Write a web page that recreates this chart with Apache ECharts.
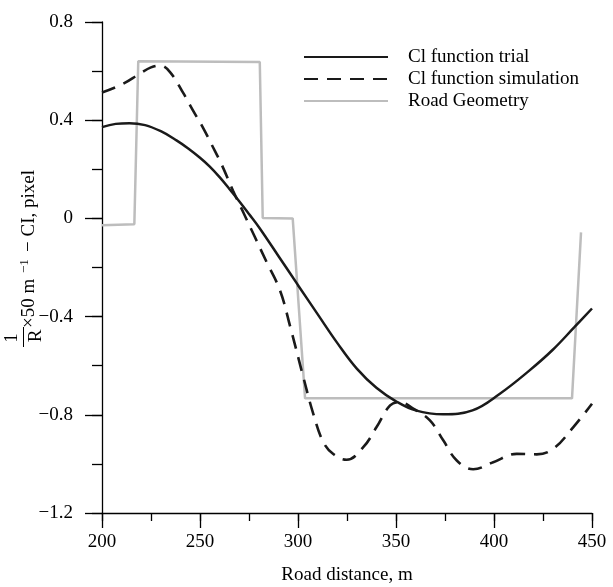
<!DOCTYPE html>
<html>
<head>
<meta charset="utf-8">
<script src="https://cdn.jsdelivr.net/npm/echarts@6/dist/echarts.min.js"></script>
<style>html,body{margin:0;padding:0;background:#fff;}#c{width:613px;height:587px;}</style>
</head>
<body>
<div id="c"></div>
<script>
var FONT = '"Liberation Serif", "Times New Roman", serif';

var trialX = [200, 207, 214, 222, 230, 238, 244, 250, 255, 260, 265, 270, 275, 280, 290, 300, 310, 320, 330, 340, 350, 360, 374, 389, 403, 418, 430, 441, 450];
var trialY = [0.372, 0.385, 0.388, 0.38, 0.355, 0.318, 0.285, 0.247, 0.211, 0.168, 0.12, 0.07, 0.018, -0.035, -0.153, -0.272, -0.39, -0.507, -0.612, -0.69, -0.745, -0.782, -0.798, -0.782, -0.714, -0.62, -0.535, -0.443, -0.367];

var simX = [200, 210, 219.4, 225, 229.6, 234.7, 241.5, 246.4, 251.5, 256, 261, 266.8, 272, 278, 284, 290.8, 296, 302.7, 307.8, 312.9, 318, 324.8, 333.3, 340.1, 347, 352, 358.8, 367.3, 374.1, 381, 389.4, 399.6, 411.6, 421.8, 430.3, 440.5, 450];
var simY = [0.513, 0.545, 0.59, 0.615, 0.623, 0.596, 0.51, 0.44, 0.37, 0.30, 0.22, 0.114, 0.026, -0.076, -0.178, -0.293, -0.44, -0.646, -0.796, -0.911, -0.96, -0.983, -0.932, -0.85, -0.762, -0.748, -0.775, -0.823, -0.904, -0.986, -1.022, -0.993, -0.959, -0.961, -0.938, -0.85, -0.755];

var roadX = [200, 216.5, 218.5, 280.5, 282, 297.3, 303.6, 439.8, 444.4];
var roadY = [-0.028, -0.024, 0.64, 0.637, 0.002, 0.0, -0.733, -0.733, -0.057];

var xTicks = {min: 200, max: 450, interval: 50, minorInterval: 25};
var yTicks = {min: -1.2, max: 0.8, interval: 0.4, minorInterval: 0.2};

var seriesNames = ['Cl function trial', 'Cl function simulation', 'Road Geometry'];

function pairs(xs, ys) { return xs.map(function (x, i) { return [x, ys[i]]; }); }
function fmtY(v) {
  if (Math.abs(v) < 1e-9) return '0';
  return (v < 0 ? '\u2212' : '') + Math.abs(v).toFixed(1);
}

var chart = echarts.init(document.getElementById('c'), null, {renderer: 'canvas'});
var gridBox = {left: 102, right: 21, top: 22, bottom: 74, containLabel: false, outerBoundsMode: 'none'};
var tickLine = {color: '#000', width: 1.3};
var txt = function (s, size) {
  return {text: s, font: size + 'px ' + FONT, fill: '#000', textVerticalAlign: 'middle'};
};
chart.setOption({
  animation: false,
  backgroundColor: '#fff',
  grid: [Object.assign({}, gridBox), Object.assign({}, gridBox)],
  xAxis: [{
    type: 'value', gridIndex: 0, position: 'bottom', min: xTicks.min, max: xTicks.max, interval: xTicks.interval,
    axisLine: {show: true, onZero: false, lineStyle: tickLine}, splitLine: {show: false},
    axisTick: {show: true, inside: false, length: 15, lineStyle: tickLine},
    minorTick: {show: false},
    axisLabel: {color: '#000', fontFamily: FONT, fontSize: 19, margin: 20},
    name: 'Road distance, m', nameLocation: 'middle', nameGap: 53,
    nameTextStyle: {color: '#000', fontFamily: FONT, fontSize: 19}
  }, {
    type: 'value', gridIndex: 1, position: 'bottom', min: xTicks.min, max: xTicks.max, interval: xTicks.minorInterval,
    axisLine: {show: false, onZero: false}, splitLine: {show: false}, axisLabel: {show: false},
    axisTick: {show: true, inside: false, length: 8, lineStyle: tickLine}
  }],
  yAxis: [{
    type: 'value', gridIndex: 0, position: 'left', min: yTicks.min, max: yTicks.max, interval: yTicks.interval,
    axisLine: {show: true, onZero: false, lineStyle: tickLine}, splitLine: {show: false},
    axisTick: {show: true, inside: false, length: 17, lineStyle: tickLine},
    minorTick: {show: false},
    axisLabel: {color: '#000', fontFamily: FONT, fontSize: 19, margin: 29, formatter: fmtY}
  }, {
    type: 'value', gridIndex: 1, position: 'left', min: yTicks.min, max: yTicks.max, interval: yTicks.minorInterval,
    axisLine: {show: false, onZero: false}, splitLine: {show: false}, axisLabel: {show: false},
    axisTick: {show: true, inside: false, length: 10, lineStyle: tickLine}
  }],
  legend: {
    orient: 'vertical', left: 303, top: 46, padding: 0, itemWidth: 84, itemHeight: 22, itemGap: 0,
    data: seriesNames,
    itemStyle: {color: 'rgba(0,0,0,0)', borderWidth: 0, borderColor: 'rgba(0,0,0,0)'},
    textStyle: {fontFamily: FONT, fontSize: 19, color: '#000', lineHeight: 22, padding: [0, 0, 0, 15]}
  },
  series: [
    {
      name: seriesNames[2], type: 'line', data: pairs(roadX, roadY), symbol: 'none', z: 1,
      lineStyle: {color: '#bdbdbd', width: 2.5}, itemStyle: {color: '#bdbdbd'}
    },
    {
      name: seriesNames[1], type: 'line', data: pairs(simX, simY), symbol: 'none', smooth: 0.4, z: 2,
      lineStyle: {color: '#1a1a1a', width: 2.6, type: [14, 9], cap: 'butt'}, itemStyle: {color: '#1a1a1a'}
    },
    {
      name: seriesNames[0], type: 'line', data: pairs(trialX, trialY), symbol: 'none', smooth: 0.4, z: 3,
      lineStyle: {color: '#1a1a1a', width: 2.5}, itemStyle: {color: '#1a1a1a'}
    }
  ],
  graphic: [
    {type: 'text', x: 12.5, y: 338, rotation: Math.PI / 2, style: Object.assign(txt('1', 19), {textAlign: 'center'})},
    {type: 'line', shape: {x1: 23.5, y1: 327, x2: 23.5, y2: 347}, style: {stroke: '#000', lineWidth: 1}},
    {type: 'text', x: 36.5, y: 336, rotation: Math.PI / 2, style: Object.assign(txt('R', 19), {textAlign: 'center'})},
    {type: 'text', x: 29, y: 328, rotation: Math.PI / 2, style: Object.assign(txt('\u00d750 m', 19), {textAlign: 'left'})},
    {type: 'text', x: 24.5, y: 273, rotation: Math.PI / 2, style: Object.assign(txt('\u22121', 13), {textAlign: 'left'})},
    {type: 'text', x: 29, y: 252, rotation: Math.PI / 2, style: Object.assign(txt('\u2212 CI, pixel', 19), {textAlign: 'left'})}
  ]
});
</script>
</body>
</html>
